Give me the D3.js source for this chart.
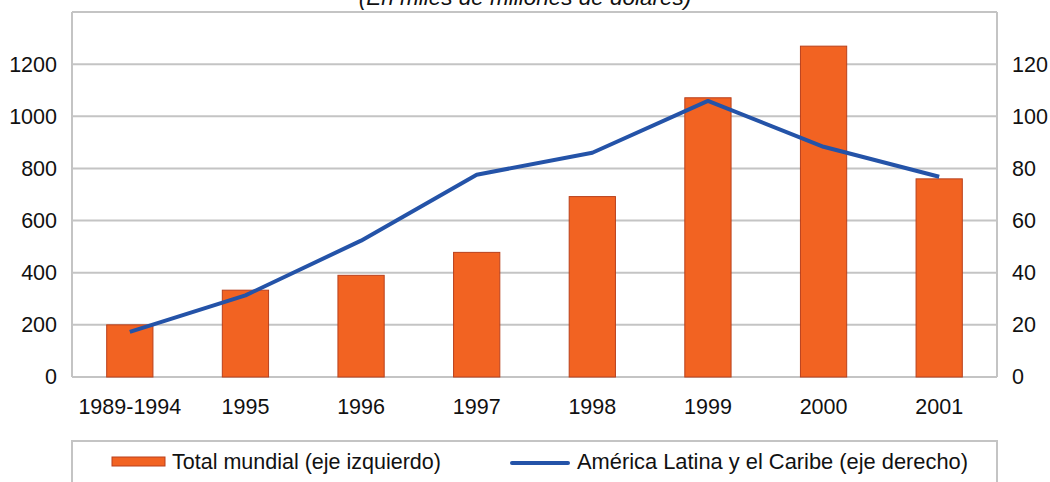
<!DOCTYPE html>
<html><head><meta charset="utf-8">
<script src="https://cdn.jsdelivr.net/npm/d3@7"></script>
<style>body{margin:0;background:#fff}svg{display:block;font-family:"Liberation Sans",Arial,sans-serif}</style>
</head><body><svg id="c" width="1050" height="482"></svg>
<script>
const categories = ["1989-1994","1995","1996","1997","1998","1999","2000","2001"];
const totalMundial = [200, 333, 390, 478, 692, 1071, 1269, 760];
const americaLatina = [17.3, 31.3, 52.3, 77.6, 86, 105.9, 88.3, 76.8];
const leftTicks = [0,200,400,600,800,1000,1200];
const rightTicks = [0,20,40,60,80,100,120];
const title = "(En miles de millones de dólares)";
const legendLabels = ["Total mundial (eje izquierdo)", "América Latina y el Caribe (eje derecho)"];

const svg = d3.select("#c");
const L = 72, R = 997, T = 12, B = 377;
const x = d3.scaleBand().domain(categories).range([L, R]).paddingInner(0.6).paddingOuter(0.3);
const yL = d3.scaleLinear().domain([0, 1400]).range([B, T]);
const yR = d3.scaleLinear().domain([0, 140]).range([B, T]);
const grid = "#c4c4c4";

svg.append("text").attr("x", 525).attr("y", 5).attr("text-anchor", "middle")
  .attr("font-size", 22.5).attr("font-style", "italic").attr("fill", "#111").text(title);

// gridlines
svg.append("g").selectAll("line").data(leftTicks.concat([1400])).join("line")
  .attr("x1", L).attr("x2", R).attr("y1", d => yL(d)).attr("y2", d => yL(d))
  .attr("stroke", grid).attr("stroke-width", 2);
svg.append("line").attr("x1", L).attr("x2", L).attr("y1", T).attr("y2", B).attr("stroke", grid).attr("stroke-width", 2);
svg.append("line").attr("x1", R).attr("x2", R).attr("y1", T).attr("y2", B).attr("stroke", grid).attr("stroke-width", 2);

// bars
svg.append("g").selectAll("rect").data(categories).join("rect")
  .attr("x", d => x(d)).attr("width", x.bandwidth())
  .attr("y", (d, i) => yL(totalMundial[i])).attr("height", (d, i) => B - yL(totalMundial[i]))
  .attr("fill", "#f26322").attr("stroke", "#b9401c").attr("stroke-width", 1);

// line
const line = d3.line().x((d, i) => x(categories[i]) + x.bandwidth() / 2).y(d => yR(d));
svg.append("path").datum(americaLatina).attr("d", line).attr("fill", "none")
  .attr("stroke", "#2453a8").attr("stroke-width", 4).attr("stroke-linejoin", "round");

// axes
const fs = 21.5;
const axL = svg.append("g").attr("transform", `translate(${L},0)`)
  .call(d3.axisLeft(yL).tickValues(leftTicks).tickFormat(d3.format("d")).tickSize(0).tickPadding(15));
const axR = svg.append("g").attr("transform", `translate(${R},0)`)
  .call(d3.axisRight(yR).tickValues(rightTicks).tickFormat(d3.format("d")).tickSize(0).tickPadding(15));
const axB = svg.append("g").attr("transform", `translate(0,${B})`)
  .call(d3.axisBottom(x).tickSize(0).tickPadding(22));
[axL, axR, axB].forEach(a => {
  a.select(".domain").remove();
  a.selectAll("text").attr("font-size", fs).attr("font-family", '"Liberation Sans",Arial,sans-serif').attr("fill", "#111");
});

// legend
svg.append("rect").attr("x", L).attr("y", 441).attr("width", R - L).attr("height", 60)
  .attr("fill", "none").attr("stroke", grid).attr("stroke-width", 2);
svg.append("rect").attr("x", 112).attr("y", 457).attr("width", 53).attr("height", 9)
  .attr("fill", "#f26322").attr("stroke", "#b9401c").attr("stroke-width", 1);
svg.append("text").attr("x", 172).attr("y", 469).attr("font-size", 21.5).attr("fill", "#111").text(legendLabels[0]);
svg.append("line").attr("x1", 512).attr("x2", 568).attr("y1", 463).attr("y2", 463)
  .attr("stroke", "#2453a8").attr("stroke-width", 4).attr("stroke-linecap", "round");
svg.append("text").attr("x", 577).attr("y", 469).attr("font-size", 21.5).attr("fill", "#111")
  .attr("textLength", 391).attr("lengthAdjust", "spacingAndGlyphs").text(legendLabels[1]);
</script></body></html>
